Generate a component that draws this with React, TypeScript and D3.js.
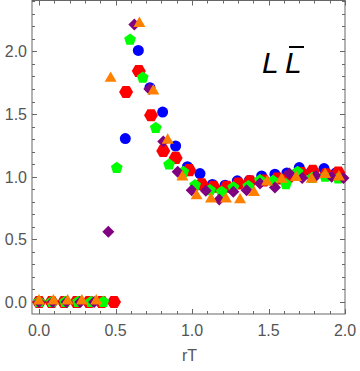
import React from 'react';
import * as d3 from 'd3';

// rT values and ratios, one pair of arrays per series
const blueX = [0, 0.081, 0.162, 0.243, 0.324, 0.405, 0.486, 0.564, 0.649, 0.725, 0.808, 0.893, 0.97, 1.052, 1.133, 1.216, 1.296, 1.375, 1.455, 1.542, 1.62, 1.701, 1.78, 1.863, 1.94];
const blueY = [0, 0, 0, 0, 0, 0, 0, 1.304, 2.008, 1.71, 1.516, 1.245, 1.08, 1.025, 0.938, 0.932, 0.967, 0.97, 1.006, 1.02, 1.03, 1.073, 1.04, 1.065, 1.03];

const redX = [0, 0.082, 0.164, 0.245, 0.327, 0.41, 0.49, 0.569, 0.652, 0.732, 0.812, 0.893, 0.982, 1.063, 1.14, 1.227, 1.303, 1.379, 1.469, 1.558, 1.632, 1.714, 1.789, 1.877, 1.956];
const redY = [0, 0, 0, 0, 0, 0, 0, 1.676, 1.843, 1.49, 1.206, 1.15, 1.052, 0.94, 0.92, 0.92, 0.946, 0.964, 0.97, 0.986, 1.0, 1.03, 1.046, 1.02, 1.033];

const greenX = [0, 0.085, 0.17, 0.255, 0.34, 0.42, 0.508, 0.595, 0.678, 0.763, 0.85, 0.943, 1.02, 1.118, 1.194, 1.27, 1.368, 1.444, 1.53, 1.614, 1.69, 1.785, 1.87, 1.956];
const greenY = [0, 0, 0, 0, 0, 0, 1.07, 2.093, 1.79, 1.389, 1.097, 1.038, 0.932, 0.892, 0.879, 0.914, 0.924, 0.972, 0.967, 0.94, 1.038, 0.99, 1.0, 0.986];

const purpleX = [0, 0.09, 0.18, 0.27, 0.36, 0.453, 0.623, 0.721, 0.812, 0.906, 0.998, 1.09, 1.178, 1.27, 1.357, 1.444, 1.542, 1.636, 1.72, 1.81, 1.913, 1.99];
const purpleY = [0, 0, 0, 0, 0, 0.56, 2.215, 1.7, 1.28, 1.04, 0.892, 0.887, 0.818, 0.879, 0.892, 0.946, 0.914, 1.025, 0.99, 1.006, 1.0, 0.99];

const orangeX = [0, 0.094, 0.187, 0.28, 0.374, 0.468, 0.656, 0.747, 0.841, 0.937, 1.03, 1.124, 1.222, 1.314, 1.405, 1.49, 1.586, 1.68, 1.782, 1.87, 1.96];
const orangeY = [0, 0, 0, 0, 0, 1.777, 2.215, 1.676, 1.283, 0.99, 0.839, 0.813, 0.813, 0.807, 0.866, 0.95, 0.972, 0.986, 0.972, 1.01, 0.99];

const xTicks = [0, 0.5, 1, 1.5, 2];
const yTicks = [0, 0.5, 1, 1.5, 2];

const W = 360;
const H = 371;
const left = 32;
const right = 345;
const top = 0.5;
const bottom = 314;

const x = d3.scaleLinear().domain([-0.046, 2.0]).range([left, right]);
const y = d3.scaleLinear().domain([-0.0956, 2.406]).range([bottom, top]);

function polygon(n: number, r: number, rot: number) {
  const pts: [number, number][] = d3.range(n).map((i) => {
    const a = rot + (i * 2 * Math.PI) / n;
    return [r * Math.cos(a), r * Math.sin(a)];
  });
  return d3.line()([...pts, pts[0]]) + 'Z';
}

const hexagon = polygon(6, 7, 0);
const pentagon = polygon(5, 6.2, -Math.PI / 2);
const circle = d3.symbol(d3.symbolCircle, 95)()!;
const triangle = d3.symbol(d3.symbolTriangle, 62)()!;
const diamond = polygon(4, 6, -Math.PI / 2);

const series = [
  { xs: blueX, ys: blueY, color: '#0000ff', path: circle, dy: 0 },
  { xs: redX, ys: redY, color: '#ff0000', path: hexagon, dy: 0 },
  { xs: greenX, ys: greenY, color: '#00ff00', path: pentagon, dy: 0 },
  { xs: purpleX, ys: purpleY, color: '#800080', path: diamond, dy: 0 },
  { xs: orangeX, ys: orangeY, color: '#ff8000', path: triangle, dy: -1 },
];

const frameColor = '#666666';
const labelColor = '#555555';
const font = '"Liberation Sans", Arial, sans-serif';

export default function App() {
  const xMinor = d3.range(0, 2.001, 0.1);
  const yMinor = d3.range(0, 2.401, 0.1);
  const isMajor = (v: number) => Math.abs(v * 2 - Math.round(v * 2)) < 1e-6;

  return (
    <svg width={W} height={H} style={{ position: 'absolute', left: 0, top: 0 }}>
      <rect width={W} height={H} fill="#fff" />
      <g fill="none" stroke={frameColor} strokeWidth={1}>
        <rect x={left} y={top} width={right - left} height={bottom - top} />
        {xMinor.map((v, i) => {
          const len = isMajor(v) ? 5 : 3;
          const px = Math.round(x(v)) + 0.5;
          return (
            <g key={'x' + i}>
              <line x1={px} x2={px} y1={bottom} y2={bottom - len} />
              <line x1={px} x2={px} y1={top} y2={top + len} />
            </g>
          );
        })}
        {yMinor.map((v, i) => {
          const len = isMajor(v) ? 5 : 3;
          const py = Math.round(y(v)) + 0.5;
          return (
            <g key={'y' + i}>
              <line x1={left} x2={left + len} y1={py} y2={py} />
              <line x1={right} x2={right - len} y1={py} y2={py} />
            </g>
          );
        })}
      </g>
      <g fontFamily={font} fontSize={16} fill={labelColor}>
        {xTicks.map((v) => (
          <text key={'xl' + v} x={x(v)} y={bottom + 22} textAnchor="middle">
            {v.toFixed(1)}
          </text>
        ))}
        {yTicks.map((v) => (
          <text key={'yl' + v} x={left - 5} y={y(v) + 6} textAnchor="end">
            {v.toFixed(1)}
          </text>
        ))}
        <text x={(left + right) / 2 + 1} y={361} textAnchor="middle">
          rT
        </text>
      </g>
      {series.map((s, si) => (
        <g key={si} fill={s.color}>
          {s.xs.map((v, i) => (
            <path key={i} d={s.path} transform={`translate(${x(v)},${y(s.ys[i]) + s.dy})`} />
          ))}
        </g>
      ))}
      <g fontFamily={font} fontStyle="italic" fontSize={30} fill="#000">
        <text x={262} y={73}>L</text>
        <text x={285} y={73}>L</text>
        <line x1={289} x2={304} y1={47} y2={47} stroke="#000" strokeWidth={2} />
      </g>
    </svg>
  );
}
